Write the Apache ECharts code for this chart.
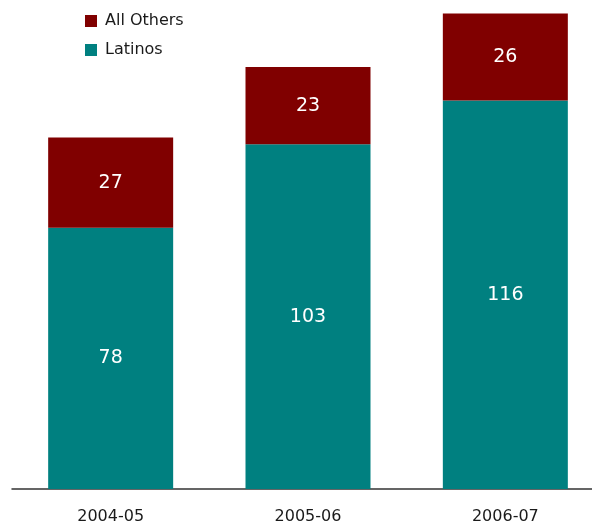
<!DOCTYPE html>
<html>
<head>
<meta charset="utf-8">
<script src="https://cdn.jsdelivr.net/npm/echarts@6/dist/echarts.min.js"></script>
<style>
  html, body { margin: 0; padding: 0; background: #fff; overflow: hidden; }
  /* canvas runs a little past the right edge so the last category band is full width */
  #chart { width: 604px; height: 527px; }
</style>
</head>
<body>
<div id="chart"></div>
<script>
// School years and enrolment counts per group
const years = ['2004-05', '2005-06', '2006-07'];
const latinos = [78, 103, 116];
const allOthers = [27, 23, 26];

const FONT = 'DejaVu Sans';

const chart = echarts.init(document.getElementById('chart'), null, { renderer: 'canvas' });

const labelStyle = {
  show: true,
  position: 'inside',
  color: '#ffffff',
  fontFamily: FONT,
  fontSize: 19
};

chart.setOption({
  animation: false,
  textStyle: { fontFamily: FONT },
  legend: {
    orient: 'vertical',
    left: 80,
    top: 8,
    itemWidth: 12,
    itemHeight: 12,
    itemGap: 13,
    icon: 'rect',
    data: ['All Others', 'Latinos'],
    textStyle: { fontFamily: FONT, fontSize: 16, color: '#1a1a1a', padding: [0, 0, 0, 3] }
  },
  grid: {
    left: 12,
    right: 0,
    top: 3.5,
    bottom: 38,
    containLabel: false
  },
  xAxis: {
    type: 'category',
    data: years,
    axisLine: { show: true, lineStyle: { color: '#333', width: 1.5 } },
    axisTick: { show: false },
    axisLabel: { color: '#1a1a1a', fontFamily: FONT, fontSize: 16, margin: 20 }
  },
  yAxis: {
    type: 'value',
    min: 0,
    max: 145,
    show: false,
    splitLine: { show: false }
  },
  series: [
    {
      name: 'Latinos',
      type: 'bar',
      stack: 'total',
      data: latinos,
      barWidth: 125,
      itemStyle: { color: '#008080' },
      label: labelStyle
    },
    {
      name: 'All Others',
      type: 'bar',
      stack: 'total',
      data: allOthers,
      barWidth: 125,
      itemStyle: { color: '#800000' },
      label: labelStyle
    }
  ]
});
</script>
</body>
</html>
